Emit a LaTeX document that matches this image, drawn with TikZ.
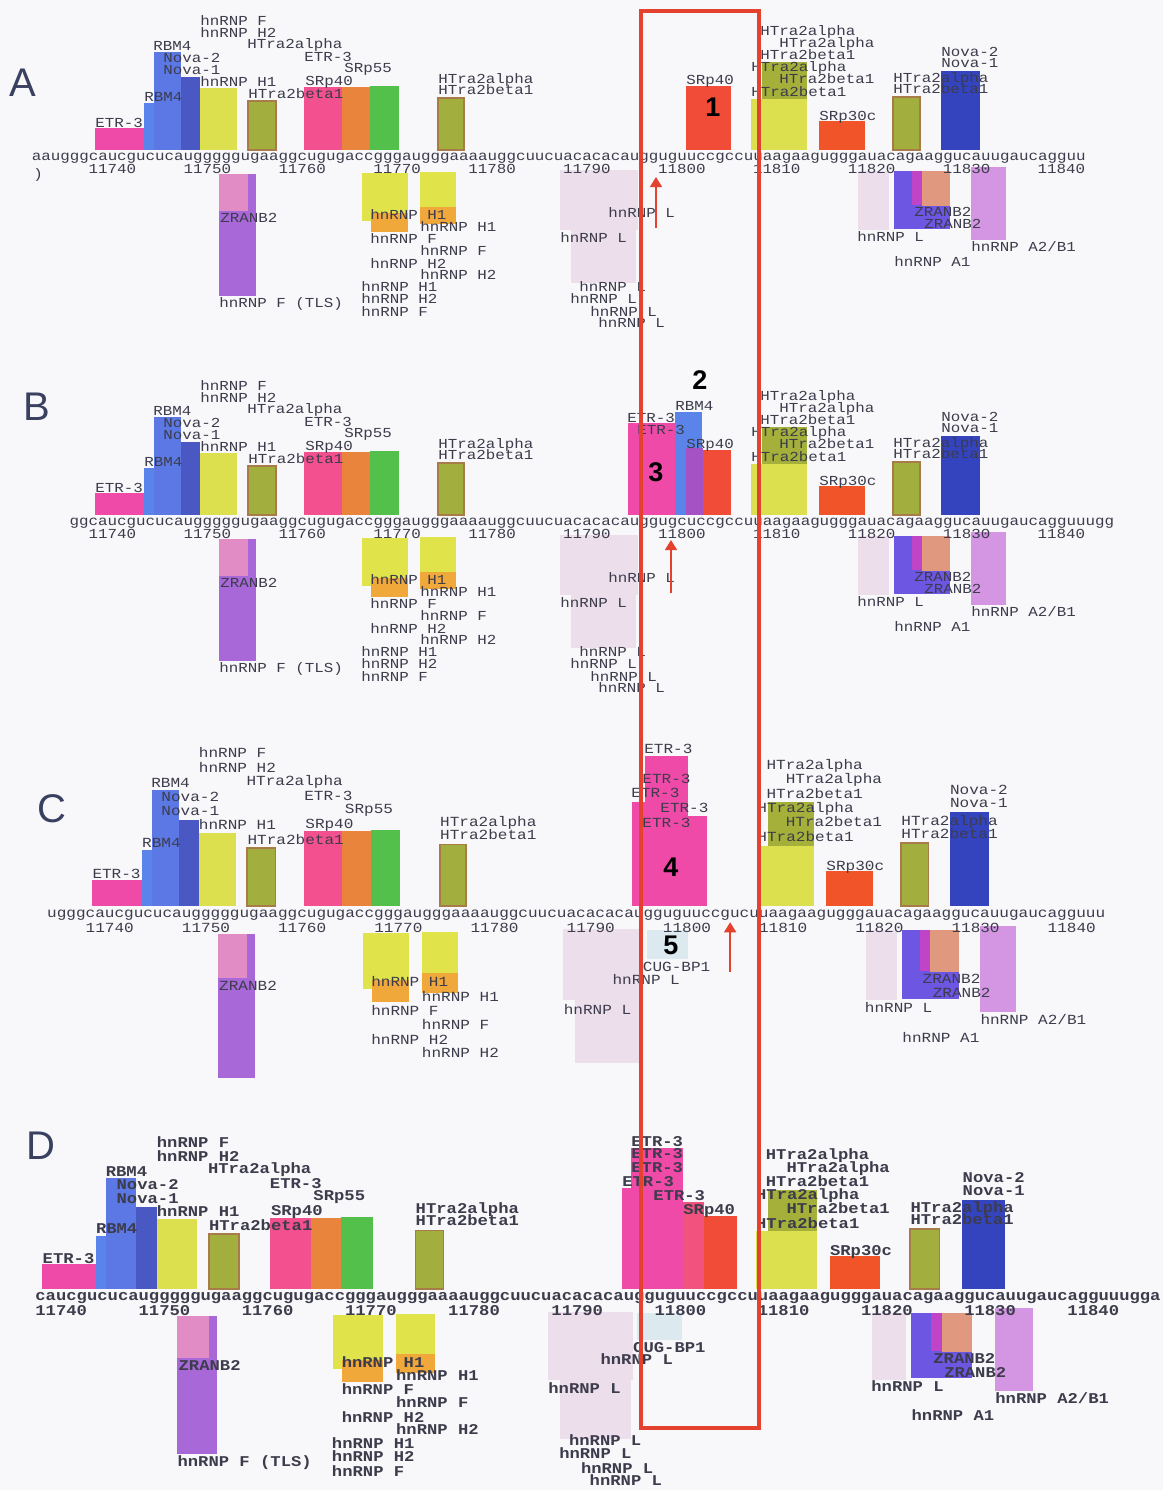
\documentclass[tikz,border=0pt]{standalone}
\usepackage{fontspec}
\setmainfont{Liberation Sans}
\newfontfamily\seqfont[FakeStretch=1.15]{Liberation Mono}
\usetikzlibrary{arrows.meta,positioning}

\definecolor{bgpage}{HTML}{F8F8FA}
\definecolor{labgray}{HTML}{3C3C4C}
\definecolor{letgray}{HTML}{3A4060}
\definecolor{etrpink}{HTML}{F04AA8}
\definecolor{rbmblue}{HTML}{5A84EA}
\definecolor{novablue}{HTML}{5C78E4}
\definecolor{novadark}{HTML}{4A58C4}
\definecolor{hyel}{HTML}{DCE04E}
\definecolor{olivefill}{HTML}{A2AE3E}
\definecolor{olivebrd}{HTML}{A87C48}
\definecolor{olivetop}{HTML}{A4B03A}
\definecolor{srpink}{HTML}{F2508E}
\definecolor{srorange}{HTML}{E8843C}
\definecolor{srgreen}{HTML}{52C04A}
\definecolor{srred}{HTML}{F04C38}
\definecolor{sr30red}{HTML}{F05428}
\definecolor{novaright}{HTML}{3444BE}
\definecolor{zpurple}{HTML}{A868D8}
\definecolor{zpink}{HTML}{E28CC6}
\definecolor{hyel2}{HTML}{E0E44A}
\definecolor{horange}{HTML}{F0A83A}
\definecolor{palepink}{HTML}{ECDEEA}
\definecolor{bpurple}{HTML}{6C56E2}
\definecolor{mstrip}{HTML}{C044C8}
\definecolor{salmon}{HTML}{E0987E}
\definecolor{violet}{HTML}{D496E2}
\definecolor{mixpurple}{HTML}{A452C4}
\definecolor{pinkred}{HTML}{F2527E}
\definecolor{cugblue}{HTML}{DCEAF0}
\definecolor{redline}{HTML}{E4412F}

\def\fsz{6.88}
\def\fwt{\mdseries}
\tikzset{
  lab/.style={font=\seqfont\fwt\fontsize{\fsz}{\fsz}\selectfont, text=labgray,
    inner sep=0pt, anchor=west, text height=4.5pt, text depth=0pt},
  seq/.style={lab, text height=3.6pt},
  plet/.style={font=\fontsize{20}{20}\selectfont, text=letgray, inner sep=0pt},
  bignum/.style={font=\bfseries\fontsize{13.5}{13.5}\selectfont, text=black, inner sep=0pt},
  obox/.style={fill=olivefill, draw=olivebrd, line width=0.8pt},
  hit/.style={draw=redline, line width=0.7pt, -{Triangle[length=5pt,width=6pt]}},
}

% boxes and names above the left half
\newcommand{\topleft}[1]{%
  \fill[etrpink] (95,128) rectangle (144,150);
  \fill[rbmblue] (144,103) rectangle (181,150);
  \fill[novablue] (154,52) rectangle (181,150);
  \fill[novadark] (181,77) rectangle (200,150);
  \fill[hyel] (200,88) rectangle (237,150);
  \draw[obox] (248,101) rectangle (276,150);
  \fill[srpink] (304,87) rectangle (342,150);
  \fill[srorange] (342,87) rectangle (370,150);
  \fill[srgreen] (370,86) rectangle (399,150);
  \draw[obox] (438,98) rectangle (464,150);
  \foreach \x/\y/\lbl [count=\i] in {200/21/hnRNP F, 200/33/hnRNP H2, 153/46/RBM4,
      247/44/HTra2alpha, 163/58/Nova-2, 304/57/ETR-3, 163/70/Nova-1, 344/68/SRp55,
      200/82/hnRNP H1, 305/81/SRp40, 248/94/HTra2beta1, 144/97/RBM4, 95/123/ETR-3,
      438/79/HTra2alpha, 438/90/HTra2beta1}
    \node[lab] (#1tl\i) at (\x,\y) {\lbl};
}
% boxes and names above the right half
\newcommand{\topright}[1]{%
  \fill[hyel] (751,99) rectangle (807,150);
  \fill[olivetop] (762,62) rectangle (807,99);
  \fill[sr30red] (819,121) rectangle (865,150);
  \draw[obox] (893,97) rectangle (920,150);
  \fill[novaright] (941,71) rectangle (980,150);
  \foreach \x/\y/\lbl [count=\i] in {760/31/HTra2alpha, 779/43/HTra2alpha,
      760/55/HTra2beta1, 751/67/HTra2alpha, 779/79/HTra2beta1, 751/92/HTra2beta1,
      819/116/SRp30c, 893/78/HTra2alpha, 893/89/HTra2beta1, 941/52/Nova-2, 941/63/Nova-1}
    \node[lab] (#1tr\i) at (\x,\y) {\lbl};
}
% below the left half
\newcommand{\botleft}[1]{%
  \fill[zpurple] (219,174) rectangle (256,296);
  \fill[zpink] (219,174) rectangle (248,211);
  \fill[hyel2] (362,173) rectangle (408,221);
  \fill[horange] (371,213) rectangle (408,232);
  \fill[hyel2] (420,172) rectangle (456,208);
  \fill[horange] (420,207) rectangle (456,224);
  \foreach \x/\y/\lbl [count=\i] in {220/218/ZRANB2, 370/215/hnRNP H1, 420/227/hnRNP H1,
      370/239/hnRNP F, 420/251/hnRNP F, 370/264/hnRNP H2, 420/275/hnRNP H2}
    \node[lab] (#1bl\i) at (\x,\y) {\lbl};
}
\newcommand{\botextra}[1]{%
  \foreach \x/\y/\lbl [count=\i] in {219/303/hnRNP F (TLS), 361/287/hnRNP H1,
      361/299/hnRNP H2, 361/312/hnRNP F}
    \node[lab] (#1bx\i) at (\x,\y) {\lbl};
}
% below the right half
\newcommand{\botright}[1]{%
  \fill[palepink] (858,171) rectangle (889,230);
  \fill[bpurple] (894,171) rectangle (950,229);
  \fill[salmon] (922,171) rectangle (950,206);
  \fill[mstrip] (912,171) rectangle (922,205);
  \fill[violet] (971,167) rectangle (1006,240);
  \foreach \x/\y/\lbl [count=\i] in {857/237/hnRNP L, 914/212/ZRANB2,
      924/224/ZRANB2, 894/262/hnRNP A1}
    \node[lab] (#1br\i) at (\x,\y) {\lbl};
  \node[lab] (#1ab) at (971,247) {hnRNP A2/B1};
}
% hnRNP L under the middle
\newcommand{\palemid}[1]{%
  \fill[palepink] (560,170) rectangle (638,230);
  \fill[palepink] (571,230) rectangle (636,283);
  \node[lab] (#1l1) at (608,213) {hnRNP L};
  \node[lab] (#1l2) at (560,238) {hnRNP L};
}
\newcommand{\lrows}[1]{%
  \foreach \x/\y [count=\i] in {579/287, 570/299, 590/312, 598/323}
    \node[lab] (#1lr\i) at (\x,\y) {hnRNP L};
}
\newcommand{\cug}[1]{%
  \fill[cugblue] (642,171) rectangle (683,195);
  \node[lab] (#1cug) at (638,202) {CUG-BP1};
}
\newcommand{\ruler}[2]{%
  \foreach \n in {11740,11750,...,11840}
    \node[lab] (#1n\n) at ({88.3+9.49*(\n-11740)},169) {\n};
  \node[seq] (#1seq) at (#2,157)
}

\begin{document}
\begin{tikzpicture}[x=0.5pt,y=-0.5pt]
\fill[bgpage] (0,0) rectangle (1163,1490);
\useasboundingbox (0,0) rectangle (1163,1490);

\node[plet] (pa) at (23,83) {A};
\node[plet] (pb) at (37,407) {B};
\node[plet] (pc) at (52,809) {C};
\node[plet] (pd) at (41,1146) {D};

% A
\begin{scope}
  \topleft{a}\topright{a}\botleft{a}\botextra{a}\botright{a}
  \fill[srred] (686,86) rectangle (731,150);
  \node[lab] (asrp) at (686,80) {SRp40};
  \node[bignum] (aone) at (713,107) {1};
  \palemid{a}\lrows{a}
  \ruler{a}{31.4}{aaugggcaucgucucaugggggugaaggcugugaccgggaugggaaaauggcuucuacacacaugguguuccgccuuaagaagugggauacagaaggucauugaucagguu};
  \node[lab] (aparen) at (33,174) {)};
  \coordinate (atail) at (656,228);
  \coordinate (ahead) at (656,177);
  \draw[hit] (atail) -- (ahead);
\end{scope}

% B
\begin{scope}[shift={(0,365)}]
  \topleft{b}\topright{b}\botleft{b}\botextra{b}\botright{b}
  \fill[etrpink] (628,58) rectangle (675,150);
  \fill[rbmblue] (675,47) rectangle (702,150);
  \fill[mixpurple] (686,83) rectangle (703,150);
  \fill[srred] (703,85) rectangle (731,150);
  \node[lab] (betr1) at (627,53) {ETR-3};
  \node[lab] (betr2) at (637,65) {ETR-3};
  \node[lab] (brbm) at (675,41) {RBM4};
  \node[lab] (bsrp) at (686,79) {SRp40};
  \node[bignum] (btwo) at (700,15) {2};
  \node[bignum] (bthree) at (656,107) {3};
  \palemid{b}\lrows{b}
  \ruler{b}{69.3}{ggcaucgucucaugggggugaaggcugugaccgggaugggaaaauggcuucuacacacauggugcuccgccuuaagaagugggauacagaaggucauugaucagguuugg};
  \coordinate (btail) at (671,228);
  \coordinate (bhead) at (671,175);
  \draw[hit] (btail) -- (bhead);
\end{scope}

% C
\begin{scope}[shift={(-4.2,728.7)}, xscale=1.0137, yscale=1.18]
  \def\fsz{6.97}
  \topleft{c}\topright{c}\botleft{c}\botright{c}
  \fill[etrpink] (640.4,23) rectangle (682.8,150);
  \fill[etrpink] (627.6,62) rectangle (682.8,150);
  \fill[etrpink] (640.4,74) rectangle (701.6,150);
  \foreach \x/\y [count=\i] in {639.4/17, 637.5/43, 626.6/54.5, 655.2/67, 637.5/80}
    \node[lab] (cetr\i) at (\x,\y) {ETR-3};
  \node[bignum] (cfour) at (666,117) {4};
  \palemid{c}\cug{c}
  \node[bignum] (cfive) at (666,184) {5};
  \ruler{c}{50.3}{ugggcaucgucucaugggggugaaggcugugaccgggaugggaaaauggcuucuacacacaugguguuccgucuuaagaagugggauacagaaggucauugaucagguuu};
  \coordinate (ctail) at (724.3,206);
  \coordinate (chead) at (724.3,164);
  \draw[hit] (ctail) -- (chead);
\end{scope}

% D
\begin{scope}[shift={(-61,1119.6)}, xscale=1.0875, yscale=1.13]
  \def\fsz{7.48}\def\fwt{\bfseries}
  \topleft{d}\topright{d}\botleft{d}\botextra{d}\botright{d}
  \fill[etrpink] (636.3,25) rectangle (684.1,150);
  \fill[etrpink] (628,60.5) rectangle (684.1,150);
  \fill[pinkred] (684.1,72.9) rectangle (703.4,150);
  \fill[srred] (703.4,85.3) rectangle (733.8,150);
  \foreach \x/\y [count=\i] in {636.3/19.8, 636.3/30.4, 636.3/42.8, 628/55.2, 656.6/67.6}
    \node[lab] (detr\i) at (\x,\y) {ETR-3};
  \node[lab] (dsrp) at (684.1,80) {SRp40};
  \palemid{d}\cug{d}
  \begin{scope}[shift={(0,-3)}]
    \lrows{d}
  \end{scope}
  \ruler{d}{88.3}{caucgucucaugggggugaaggcugugaccgggaugggaaaauggcuucuacacacaugguguuccgccuuaagaagugggauacagaaggucauugaucagguuugga};
\end{scope}

% the region of interest
\draw[redline, line width=2pt] (641,11) rectangle (759,1428);
\end{tikzpicture}
\end{document}
